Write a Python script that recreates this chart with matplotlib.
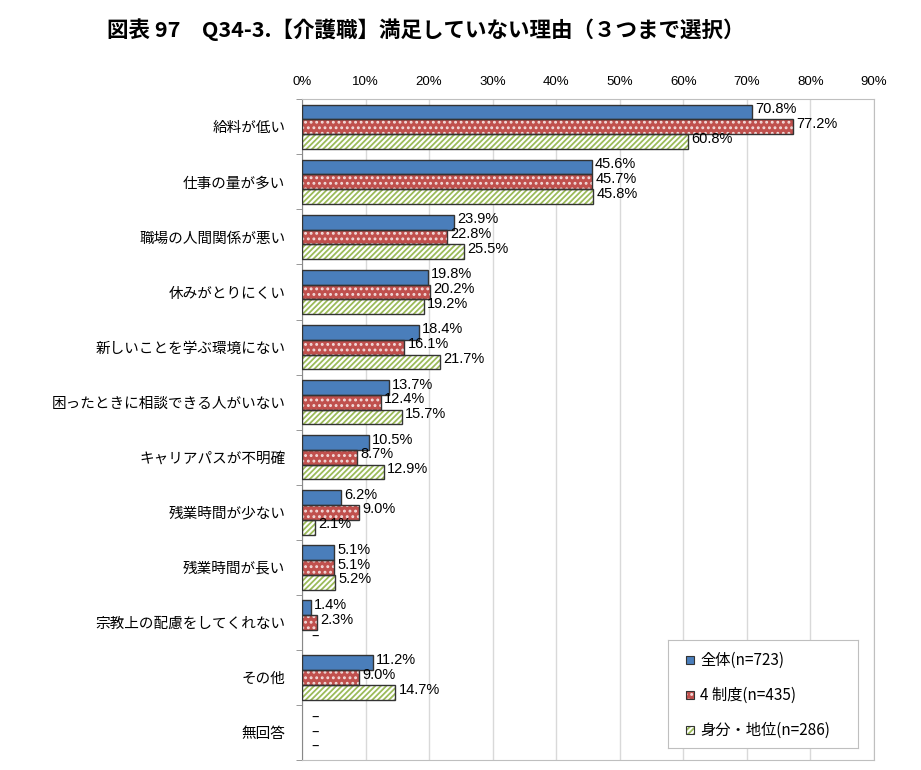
import numpy as np
import matplotlib.pyplot as plt
from matplotlib.patches import Rectangle

plt.rcParams['font.family'] = ['Noto Sans CJK JP', 'DejaVu Sans']
plt.rcParams['hatch.linewidth'] = 1.3

categories = ["給料が低い", "仕事の量が多い", "職場の人間関係が悪い", "休みがとりにくい",
              "新しいことを学ぶ環境にない", "困ったときに相談できる人がいない",
              "キャリアパスが不明確", "残業時間が少ない", "残業時間が長い",
              "宗教上の配慮をしてくれない", "その他", "無回答"]
total = [70.8, 45.6, 23.9, 19.8, 18.4, 13.7, 10.5, 6.2, 5.1, 1.4, 11.2, None]
system4 = [77.2, 45.7, 22.8, 20.2, 16.1, 12.4, 8.7, 9.0, 5.1, 2.3, 9.0, None]
status = [60.8, 45.8, 25.5, 19.2, 21.7, 15.7, 12.9, 2.1, 5.2, None, 14.7, None]
series_names = ["全体(n=723)", "4 制度(n=435)", "身分・地位(n=286)"]

fig = plt.figure(figsize=(9.21, 7.70), dpi=100)
ax = fig.add_axes([302 / 921, 0.013, 572 / 921, 0.858])

n = len(categories)
y = np.arange(n)
h = 0.27
offsets = [-h, 0, h]
styles = [
    dict(color="#4a7ebb", hatch=None, hatch_color="#4a7ebb"),
    dict(color="#c0504d", hatch="...", hatch_color="#f2dcdb"),
    dict(color="white", hatch="//////", hatch_color="#9bbb59"),
]

for vals, off, st in zip([total, system4, status], offsets, styles):
    v = np.array([np.nan if x is None else x for x in vals], dtype=float)
    pos = y + off
    ax.barh(pos, v, height=h, color=st["color"], hatch=st["hatch"],
            edgecolor=st["hatch_color"], linewidth=0, zorder=3)
    ax.barh(pos, v, height=h, color="none", edgecolor="#333333", linewidth=1.0, zorder=4)
    for yy, val in zip(pos, vals):
        if val is None:
            ax.text(1.5, yy, "–", va="center", ha="left", fontsize=10, color="black", zorder=5)
        else:
            ax.text(val + 0.5, yy - 0.05, f"{val:.1f}%", va="center", ha="left", fontsize=10.5,
                    family=['Liberation Sans', 'DejaVu Sans'], zorder=5)

ax.set_xlim(0, 90)
ax.set_ylim(n - 0.5, -0.5)
ax.xaxis.tick_top()
ax.set_xticks(np.arange(0, 91, 10))
ax.set_xticklabels([f"{t}%" for t in range(0, 91, 10)], fontsize=9.5,
                   family=['Liberation Sans', 'DejaVu Sans'])
ax.tick_params(axis="x", length=0, pad=8)
ax.grid(axis="x", color="#d9d9d9", linewidth=1, zorder=0)
ax.set_yticks(y)
ax.set_yticklabels(categories, fontsize=10.5)
ax.tick_params(axis="y", length=0, pad=12)
ax.set_yticks(np.arange(-0.5, n, 1), minor=True)
ax.tick_params(axis="y", which="minor", length=4, color="#888888")
for s in ["top", "right", "bottom"]:
    ax.spines[s].set_color("#bfbfbf")
ax.spines["left"].set_color("#888888")

leg_ax = fig.add_axes([668 / 921, 1 - 748 / 770, 190 / 921, 108 / 770])
leg_ax.set_xlim(0, 190)
leg_ax.set_ylim(108, 0)
leg_ax.set_xticks([])
leg_ax.set_yticks([])
for s in leg_ax.spines.values():
    s.set_color("#bfbfbf")
for i, (st, name) in enumerate(zip(styles, series_names)):
    cy = 20 + i * 35
    leg_ax.add_patch(Rectangle((18, cy - 4), 8, 8, facecolor=st["color"],
                               hatch=st["hatch"], edgecolor=st["hatch_color"], linewidth=0))
    leg_ax.add_patch(Rectangle((18, cy - 4), 8, 8, facecolor="none", edgecolor="#333333", linewidth=0.8))
    leg_ax.text(32, cy, name, va="center", ha="left", fontsize=11)

fig.text(107 / 921, 1 - 30 / 770,
         "図表 97　Q34-3.【介護職】満足していない理由（３つまで選択）",
         fontsize=15.5, va="center", ha="left", weight="bold")

fig.savefig("out.png", dpi=100)
